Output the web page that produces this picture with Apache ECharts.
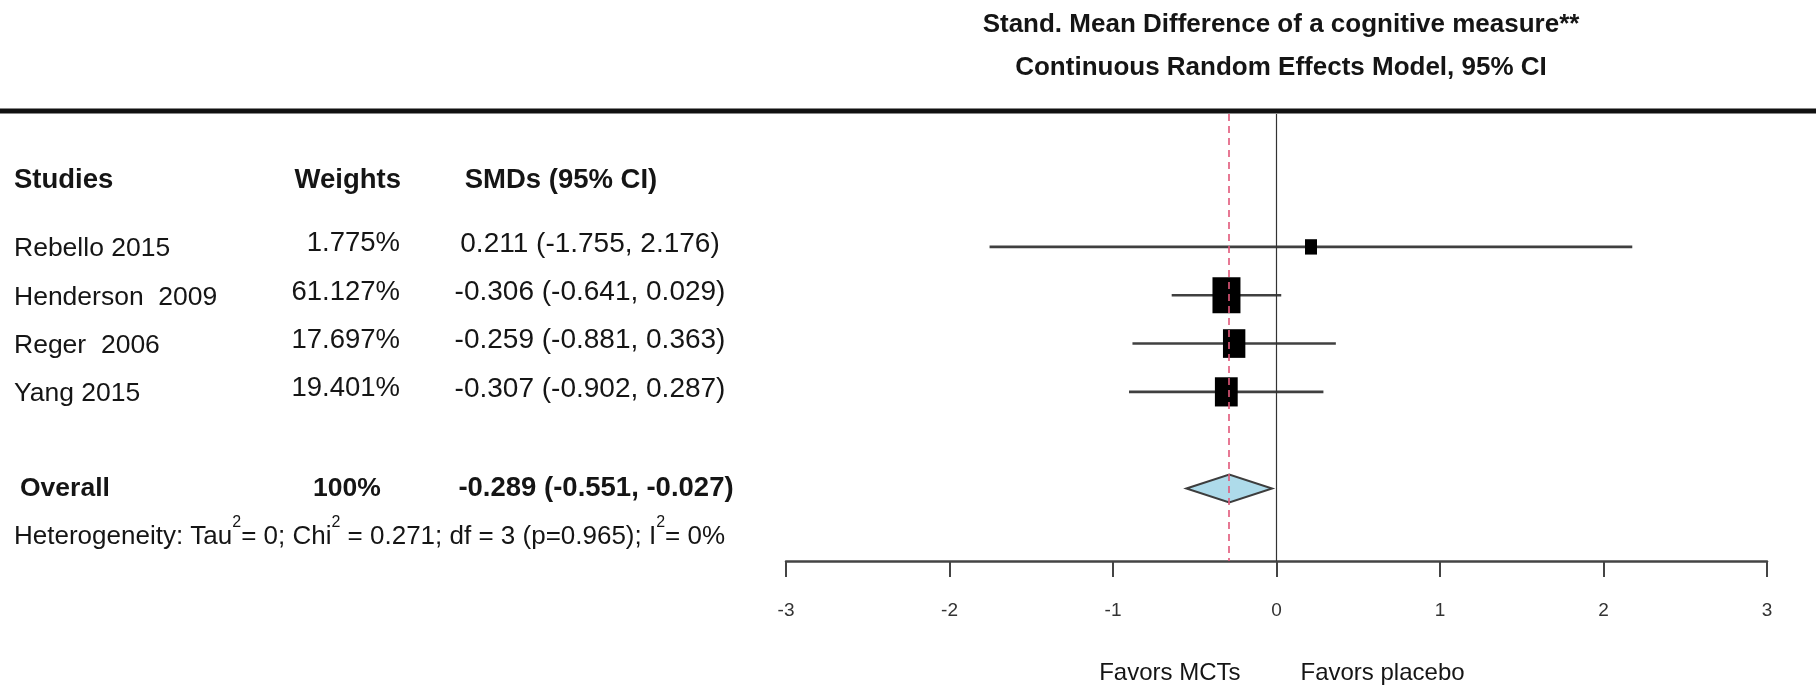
<!DOCTYPE html>
<html>
<head>
<meta charset="utf-8">
<script src="https://cdn.jsdelivr.net/npm/echarts@6/dist/echarts.min.js"></script>
<style>
  html, body { margin: 0; padding: 0; background: #fff; }
  #chart { width: 1816px; height: 686px; }
</style>
</head>
<body>
<div id="chart"></div>
<script>
// ---------------- data ----------------
const studies = ['Rebello 2015', 'Henderson  2009', 'Reger  2006', 'Yang 2015'];
const weights = [1.775, 61.127, 17.697, 19.401];
const smd = [0.211, -0.306, -0.259, -0.307];
const ciLow = [-1.755, -0.641, -0.881, -0.902];
const ciHigh = [2.176, 0.029, 0.363, 0.287];
const overallLabel = 'Overall';
const overallWeight = 100;
const overallSmd = -0.289;
const overallLow = -0.551;
const overallHigh = -0.027;
const tau2 = 0, chi2 = 0.271, dfHet = 3, pHet = 0.965, i2 = 0;
const xTicks = [-3, -2, -1, 0, 1, 2, 3];
const headers = ['Studies', 'Weights', 'SMDs (95% CI)'];
const titleMain = 'Stand. Mean Difference of a cognitive measure**';
const titleSub = 'Continuous Random Effects Model, 95% CI';
const favorLeft = 'Favors MCTs';
const favorRight = 'Favors placebo';

// ---------------- layout ----------------
const FONT = '"Liberation Sans", Arial, Helvetica, sans-serif';
const rowOf = i => i + 1;
const overallRow = studies.length + 2;
const headerRow = -0.375;
const hetRow = overallRow + 1;
const Y_MIN = -1.75, Y_MAX = 7.5;
const gridTop = 114, gridBottom = 125;

const fmt3 = v => v.toFixed(3);
const smdText = (e, l, h) => fmt3(e) + ' (' + fmt3(l) + ', ' + fmt3(h) + ')';

function textSeries(xPos, rows, texts, style) {
  return {
    type: 'custom', xAxisIndex: 1, yAxisIndex: 1, z: 5, silent: true,
    data: rows.map(r => [xPos, r]),
    renderItem: (params, api) => {
      const p = api.coord([api.value(0), api.value(1)]);
      return {
        type: 'text', x: p[0], y: p[1] + (style.dy || 0),
        style: Object.assign({
          text: texts[params.dataIndex], fill: '#151515', fontFamily: FONT,
          fontSize: 26.5, align: 'left', verticalAlign: 'middle'
        }, style.s)
      };
    }
  };
}

const studyRows = studies.map((s, i) => rowOf(i));
const forestData = studies.map((s, i) => [smd[i], ciLow[i], ciHigh[i], rowOf(i), weights[i]]);

const hetRich = '{b|Heterogeneity: Tau}{s|2}{b|= ' + tau2 + '; Chi}{s|2}{b| = ' + chi2 + '; df = ' + dfHet +
  ' (p=' + pHet + '); I}{s|2}{b|= ' + i2 + '%}';

const chart = echarts.init(document.getElementById('chart'), null, { renderer: 'canvas' });
const option = {
  backgroundColor: '#ffffff',
  animation: false,
  title: [
    { text: titleMain, left: 1276, top: 7, textAlign: 'center',
      textStyle: { fontFamily: FONT, fontSize: 26, fontWeight: 'bold', color: '#151515' } },
    { text: titleSub, left: 1276, top: 50, textAlign: 'center',
      textStyle: { fontFamily: FONT, fontSize: 26, fontWeight: 'bold', color: '#151515' } }
  ],
  graphic: [
    { type: 'line', shape: { x1: 0, y1: 111, x2: 1816, y2: 111 }, style: { stroke: '#111', lineWidth: 5 }, z: 10 }
  ],
  grid: [
    { left: 786, right: 49, top: gridTop, bottom: gridBottom },
    { left: 0, width: 760, top: gridTop, bottom: gridBottom }
  ],
  xAxis: [
    {
      type: 'value', gridIndex: 0, min: -3, max: 3, interval: 1, position: 'bottom',
      splitLine: { show: false },
      axisLine: { show: true, onZero: false, lineStyle: { color: '#444', width: 2.5 } },
      axisTick: { show: true, length: 16, lineStyle: { color: '#444', width: 2 } },
      axisLabel: { fontFamily: FONT, fontSize: 19, color: '#333', margin: 40,
        formatter: v => xTicks.includes(v) ? String(v) : '' }
    },
    { type: 'value', gridIndex: 1, min: 0, max: 760, show: false }
  ],
  yAxis: [
    { type: 'value', gridIndex: 0, min: Y_MIN, max: Y_MAX, inverse: true, show: false },
    { type: 'value', gridIndex: 1, min: Y_MIN, max: Y_MAX, inverse: true, show: false }
  ],
  series: [
    {
      type: 'line', xAxisIndex: 0, yAxisIndex: 0, data: [], z: 1, silent: true,
      markLine: {
        symbol: 'none', silent: true, label: { show: false },
        data: [
          { xAxis: 0, lineStyle: { color: '#333', width: 1.2, type: 'solid' } },
          { xAxis: overallSmd, lineStyle: { color: '#e2587a', width: 1.6, type: [7, 5] } }
        ]
      }
    },
    {
      type: 'custom', xAxisIndex: 0, yAxisIndex: 0, z: 3, silent: true,
      data: forestData,
      renderItem: (params, api) => {
        const row = api.value(3);
        const c = api.coord([api.value(0), row]);
        const l = api.coord([api.value(1), row]);
        const h = api.coord([api.value(2), row]);
        const w = 9.4 + 4.52 * Math.log(api.value(4));
        const hh = w * 1.28;
        return {
          type: 'group', children: [
            { type: 'line', shape: { x1: l[0], y1: l[1], x2: h[0], y2: h[1] },
              style: { stroke: '#404040', lineWidth: 2.6 } },
            { type: 'rect', shape: { x: c[0] - w / 2, y: c[1] - hh / 2, width: w, height: hh },
              style: { fill: '#000' } }
          ]
        };
      }
    },
    {
      type: 'custom', xAxisIndex: 0, yAxisIndex: 0, z: 3, silent: true,
      data: [[overallSmd, overallLow, overallHigh, overallRow]],
      renderItem: (params, api) => {
        const row = api.value(3);
        const c = api.coord([api.value(0), row]);
        const l = api.coord([api.value(1), row]);
        const h = api.coord([api.value(2), row]);
        const half = 14;
        return {
          type: 'polygon',
          shape: { points: [[l[0], l[1]], [c[0], c[1] - half], [h[0], h[1]], [c[0], c[1] + half]] },
          style: { fill: '#aedbea', stroke: '#3d3d3d', lineWidth: 2 }
        };
      }
    },
    // table headers
    textSeries(14, [headerRow], [headers[0]], { s: { fontWeight: 'bold', fontSize: 27.5 } }),
    textSeries(401, [headerRow], [headers[1]], { s: { fontWeight: 'bold', fontSize: 27.5, align: 'right' } }),
    textSeries(561, [headerRow], [headers[2]], { s: { fontWeight: 'bold', fontSize: 27.5, align: 'center' } }),
    // study rows
    textSeries(14, studyRows, studies, { dy: 2, s: {} }),
    textSeries(400, studyRows, weights.map(w => fmt3(w) + '%'), { dy: -3, s: { fontSize: 27.5, align: 'right' } }),
    textSeries(590, studyRows, studies.map((s, i) => smdText(smd[i], ciLow[i], ciHigh[i])), { dy: -3, s: { fontSize: 28, align: 'center' } }),
    // overall row
    textSeries(20, [overallRow], [overallLabel], { s: { fontWeight: 'bold', fontSize: 26.5 } }),
    textSeries(347, [overallRow], [overallWeight + '%'], { s: { fontWeight: 'bold', fontSize: 26.5, align: 'center' } }),
    textSeries(596, [overallRow], [smdText(overallSmd, overallLow, overallHigh)], { s: { fontWeight: 'bold', fontSize: 27.5, align: 'center' } }),
    // heterogeneity
    {
      type: 'custom', xAxisIndex: 1, yAxisIndex: 1, z: 5, silent: true,
      data: [[14, hetRow]],
      renderItem: (params, api) => {
        const p = api.coord([api.value(0), api.value(1)]);
        return {
          type: 'text', x: p[0], y: p[1] - 5,
          style: {
            text: hetRich, fill: '#151515', fontFamily: FONT, fontSize: 26,
            align: 'left', verticalAlign: 'middle',
            rich: {
              b: { fontSize: 26, fontFamily: FONT, fill: '#151515', lineHeight: 35, verticalAlign: 'bottom' },
              s: { fontSize: 16, fontFamily: FONT, fill: '#151515', lineHeight: 16, verticalAlign: 'top' }
            }
          }
        };
      }
    },
    // favors labels under the axis
    {
      type: 'custom', xAxisIndex: 0, yAxisIndex: 0, z: 5, silent: true,
      data: [[0, Y_MAX]],
      renderItem: (params, api) => {
        const p = api.coord([api.value(0), api.value(1)]);
        const st = { fill: '#151515', fontFamily: FONT, fontSize: 24, verticalAlign: 'middle' };
        return {
          type: 'group', children: [
            { type: 'text', x: p[0] - 36, y: p[1] + 112, style: Object.assign({ text: favorLeft, align: 'right' }, st) },
            { type: 'text', x: p[0] + 24, y: p[1] + 112, style: Object.assign({ text: favorRight, align: 'left' }, st) }
          ]
        };
      }
    }
  ]
};
chart.setOption(option);
</script>
</body>
</html>
